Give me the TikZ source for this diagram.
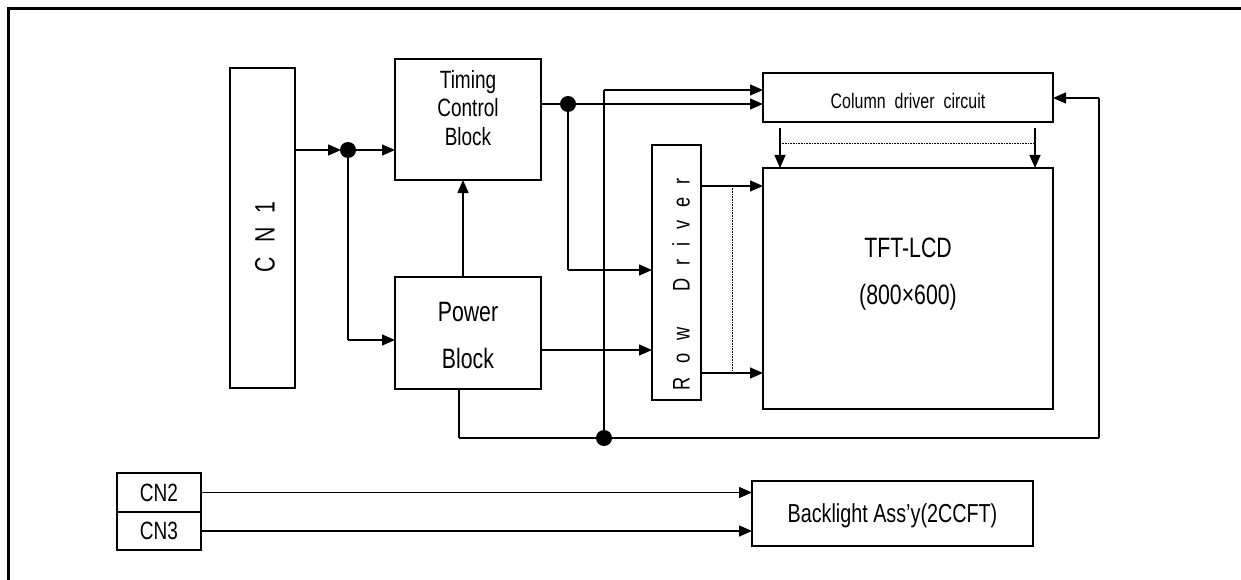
\documentclass[tikz,border=0pt]{standalone}
\usepackage{fontspec}
\setmainfont{Liberation Sans}[FakeStretch=0.76]
\usetikzlibrary{arrows.meta}
\begin{document}
\begin{tikzpicture}[x=1pt,y=-1pt,
  box/.style={draw, line width=2.2pt, inner sep=0pt, outer sep=0pt, rectangle},
  conn/.style={line width=1.4pt},
  bus/.style={line width=2.6pt},
  arr/.style={line width=1.4pt, -{Triangle[length=13pt,width=11pt]}},
  dotc/.style={circle, fill, inner sep=0pt, minimum size=16pt},
  txt/.style={inner sep=0pt, align=center},
  ]
\useasboundingbox (0,0) rectangle (1241,580);
% frame
\draw[line width=3pt] (8,590) -- (8,9) -- (1250,9);

% boxes
\node[box, minimum width=65pt, minimum height=320pt] (cn1) at (262.5,228) {};
\node[box, minimum width=146pt, minimum height=121pt] (tcb) at (468,119.5) {};
\node[box, minimum width=146pt, minimum height=112pt] (pb) at (468,333) {};
\node[box, minimum width=290pt, minimum height=49pt] (col) at (908,97.5) {};
\node[box, minimum width=49pt, minimum height=255pt] (row) at (676.5,272.5) {};
\node[box, minimum width=290pt, minimum height=241pt] (tft) at (908,288.5) {};
\node[box, minimum width=84pt, minimum height=39pt] (cn2) at (159,492.5) {};
\node[box, minimum width=84pt, minimum height=38pt] (cn3) at (159,531) {};
\node[box, minimum width=281pt, minimum height=65pt] (bl) at (892.5,513.5) {};

% texts
\node[txt, rotate=90, font=\fontsize{28}{30}\selectfont] (cn1t) at (265,237) {C\hspace{14pt}N\hspace{14pt}1};
\node[txt, font=\fontsize{25}{28.5}\selectfont] (tcbt) at (468,108) {Timing\\Control\\Block};
\node[txt, font=\fontsize{28}{47}\selectfont] (pbt) at (468,336) {Power\\Block};
\node[txt, font=\fontsize{21}{23}\selectfont] (colt) at (908,101) {Column\hspace{9pt}driver\hspace{9pt}circuit};
\node[txt, rotate=90, font=\fontsize{24}{26}\selectfont] (rowt) at (681,284) {R\hspace{13pt}o\hspace{13pt}w\hspace{36pt}D\hspace{13pt}r\hspace{13pt}i\hspace{13pt}v\hspace{13pt}e\hspace{13pt}r};
\node[txt, font=\fontsize{28}{47}\selectfont] (tftt) at (908,274) {TFT-LCD\\(800×600)};
\node[txt, font=\fontsize{25}{27}\selectfont] (cn2t) at (cn2) {CN2};
\node[txt, font=\fontsize{25}{27}\selectfont] (cn3t) at (cn3) {CN3};
\node[txt, font=\fontsize{26}{28}\selectfont] (blt) at (892.5,516) {Backlight Ass’y(2CCFT)};

% junction and corner coordinates
\coordinate (j1) at (348,150);
\coordinate (j2) at (568,104);
\coordinate (j3) at (604,438);
\coordinate (k1) at (348,340);
\coordinate (k2) at (568,270);
\coordinate (k3) at (604,90);
\coordinate (k4) at (459,438);
\coordinate (k5) at (1099,438);
\coordinate (k6) at (1099,98);
\coordinate (k7) at (541,350);
\coordinate (r1) at (701,186);
\coordinate (r2) at (701,373);
\coordinate (d1) at (732,186);
\coordinate (d2) at (732,373);
\coordinate (c1) at (780,128);
\coordinate (c2) at (1035,128);
\coordinate (e1) at (780,143);
\coordinate (e2) at (1035,143);

% connectors
\draw[arr, shorten >=7pt] (cn1.east |- j1) -- (j1);
\draw[arr] (j1) -- (tcb.west |- j1);
\draw[bus] (j1) -- (k1);
\draw[arr] (k1) -- (pb.west |- k1);
\draw[arr] ([xshift=-5pt]pb.north) -- ([xshift=-5pt]tcb.south);
\draw[conn] (tcb.east |- j2) -- (j2);
\draw[arr] (j2) -- (col.west |- j2);
\draw[bus] (j2) -- (k2);
\draw[arr] (k2) -- (row.west |- k2);
\draw[bus] (k3) -- (j3);
\draw[arr] (k3) -- (col.west |- k3);
\draw[arr] (k7) -- (row.west |- k7);
\draw[bus] (pb.south -| k4) -- (k4);
\draw[conn] (k4) -- (k5);
\draw[line width=1.8pt] (k5) -- (k6);
\draw[arr] (k6) -- (col.east |- k6);
\draw[arr] (r1) -- (tft.west |- r1);
\draw[arr] (r2) -- (tft.west |- r2);
\draw[densely dotted, line width=0.6pt] (d1) -- (d2);
\draw[arr] (c1) -- (c1 |- tft.north);
\draw[arr] (c2) -- (c2 |- tft.north);
\draw[densely dotted, line width=0.6pt] (e1) -- (e2);
\draw[arr] (cn2.east) -- (bl.west |- cn2.east);
\draw[arr] (cn3.east) -- (bl.west |- cn3.east);

% dots
\node[dotc] (dot1) at (j1) {};
\node[dotc] (dot2) at (j2) {};
\node[dotc] (dot3) at (j3) {};
\end{tikzpicture}
\end{document}
